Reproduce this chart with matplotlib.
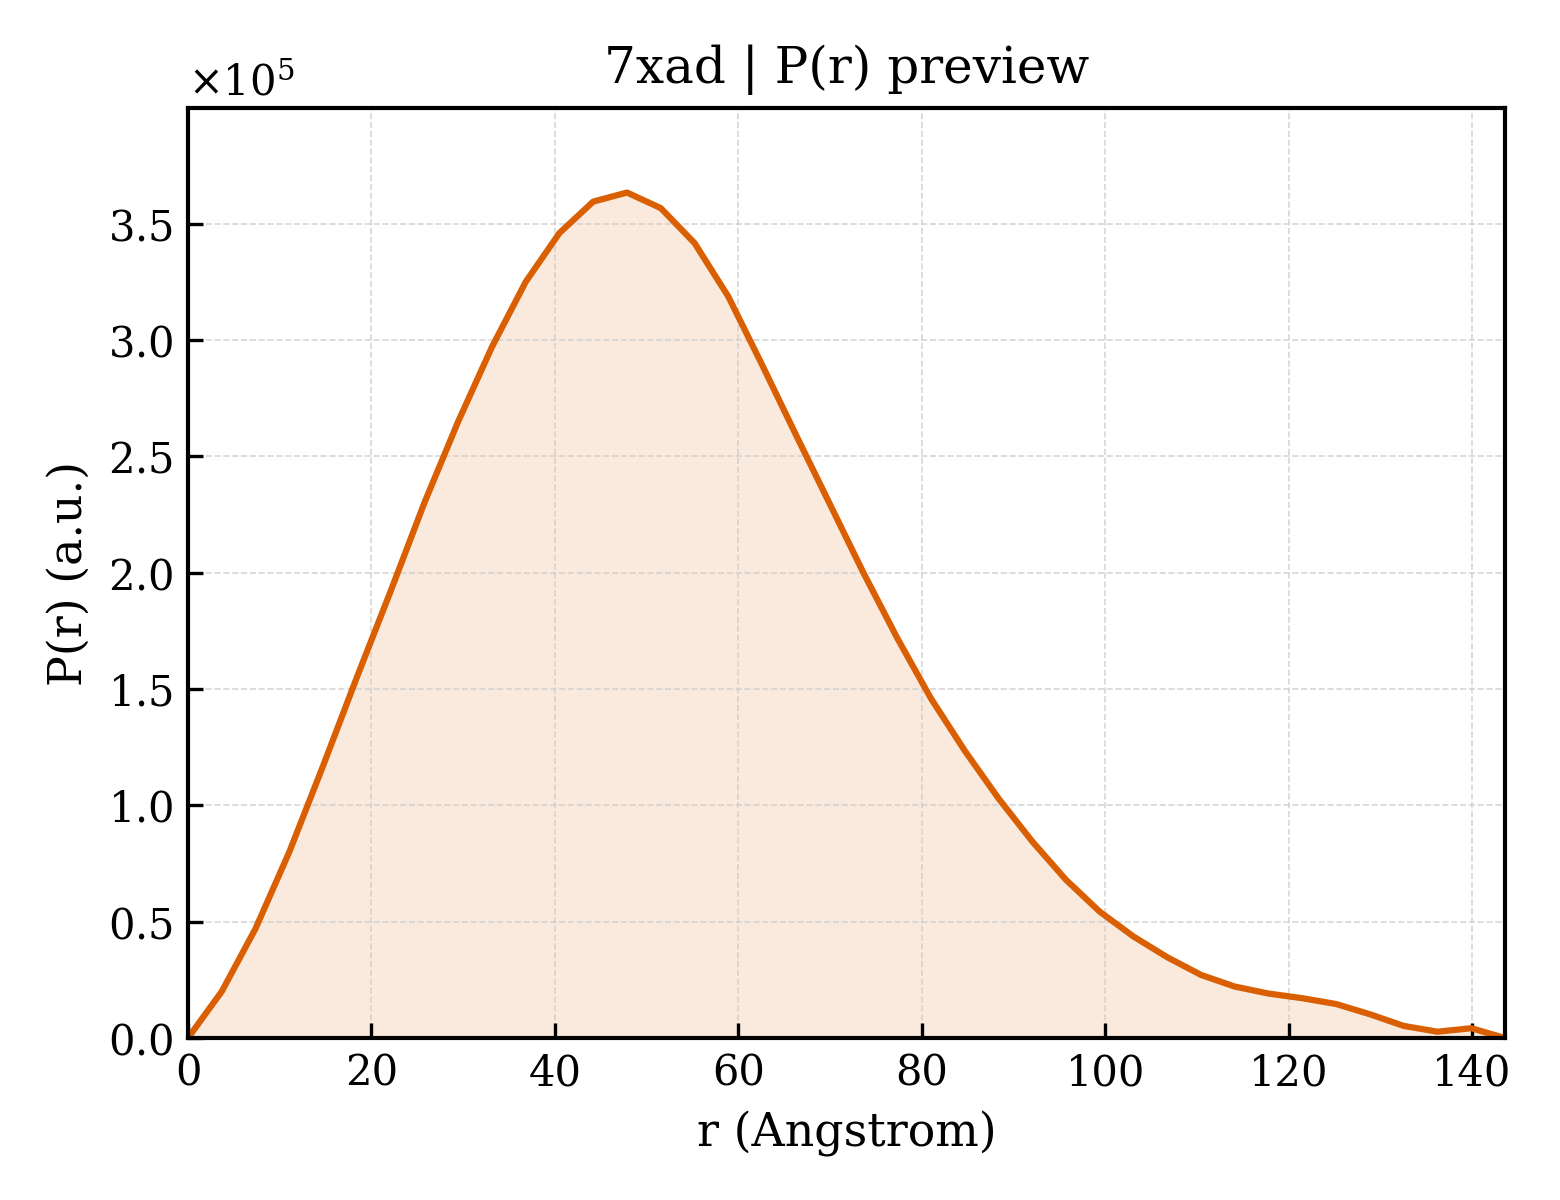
import matplotlib
matplotlib.use("Agg")
import matplotlib.pyplot as plt
from matplotlib.ticker import ScalarFormatter

r_values = [0.00, 3.68, 7.36, 11.05, 14.73, 18.41, 22.09, 25.77, 29.46, 33.14,
            36.82, 40.50, 44.18, 47.87, 51.55, 55.23, 58.91, 62.59, 66.28, 69.96,
            73.64, 77.32, 81.00, 84.69, 88.37, 92.05, 95.73, 99.41, 103.10, 106.78,
            110.46, 114.14, 117.82, 121.51, 125.19, 128.87, 132.55, 136.23, 139.92, 143.60]

p_values_e5 = [0.0, 0.20, 0.47, 0.80, 1.17, 1.55, 1.92, 2.30, 2.65, 2.97,
               3.25, 3.46, 3.595, 3.634, 3.567, 3.417, 3.187, 2.894, 2.593, 2.297,
               2.00, 1.72, 1.46, 1.235, 1.03, 0.845, 0.68, 0.543, 0.436, 0.347,
               0.271, 0.221, 0.191, 0.171, 0.146, 0.102, 0.052, 0.027, 0.042, 0.0]

p_values = [v * 1e5 for v in p_values_e5]

title_text = "7xad | P(r) preview"
x_label = "r (Angstrom)"
y_label = "P(r) (a.u.)"

plt.rcParams['font.family'] = ['DejaVu Serif']
plt.rcParams['mathtext.fontset'] = 'dejavuserif'

color = "#d95f02"

fig = plt.figure(figsize=(5.2, 4.0), dpi=300)
ax = fig.add_axes([188/1560, 1 - 1038/1200, (1505-188)/1560, (1038-108)/1200])

ax.fill_between(r_values, p_values, 0, color=color, alpha=0.13, linewidth=0)
ax.plot(r_values, p_values, color=color, linewidth=1.5)

ax.set_xlim(0, max(r_values))
ax.set_ylim(0, max(p_values) * 1.1)

ax.set_title(title_text, fontsize=12)
ax.set_xlabel(x_label, fontsize=11)
ax.set_ylabel(y_label, fontsize=11)

fmt = ScalarFormatter(useMathText=True)
fmt.set_powerlimits((0, 0))
ax.yaxis.set_major_formatter(fmt)
ax.yaxis.get_offset_text().set_fontsize(10)

ax.tick_params(axis='both', direction='in', labelsize=10, length=3.5, width=0.8,
               top=False, right=False)
ax.grid(True, linestyle='--', linewidth=0.4, color='#cccccc', alpha=0.8)
for s in ax.spines.values():
    s.set_linewidth(1.0)

fig.savefig("out.png", dpi=300)
